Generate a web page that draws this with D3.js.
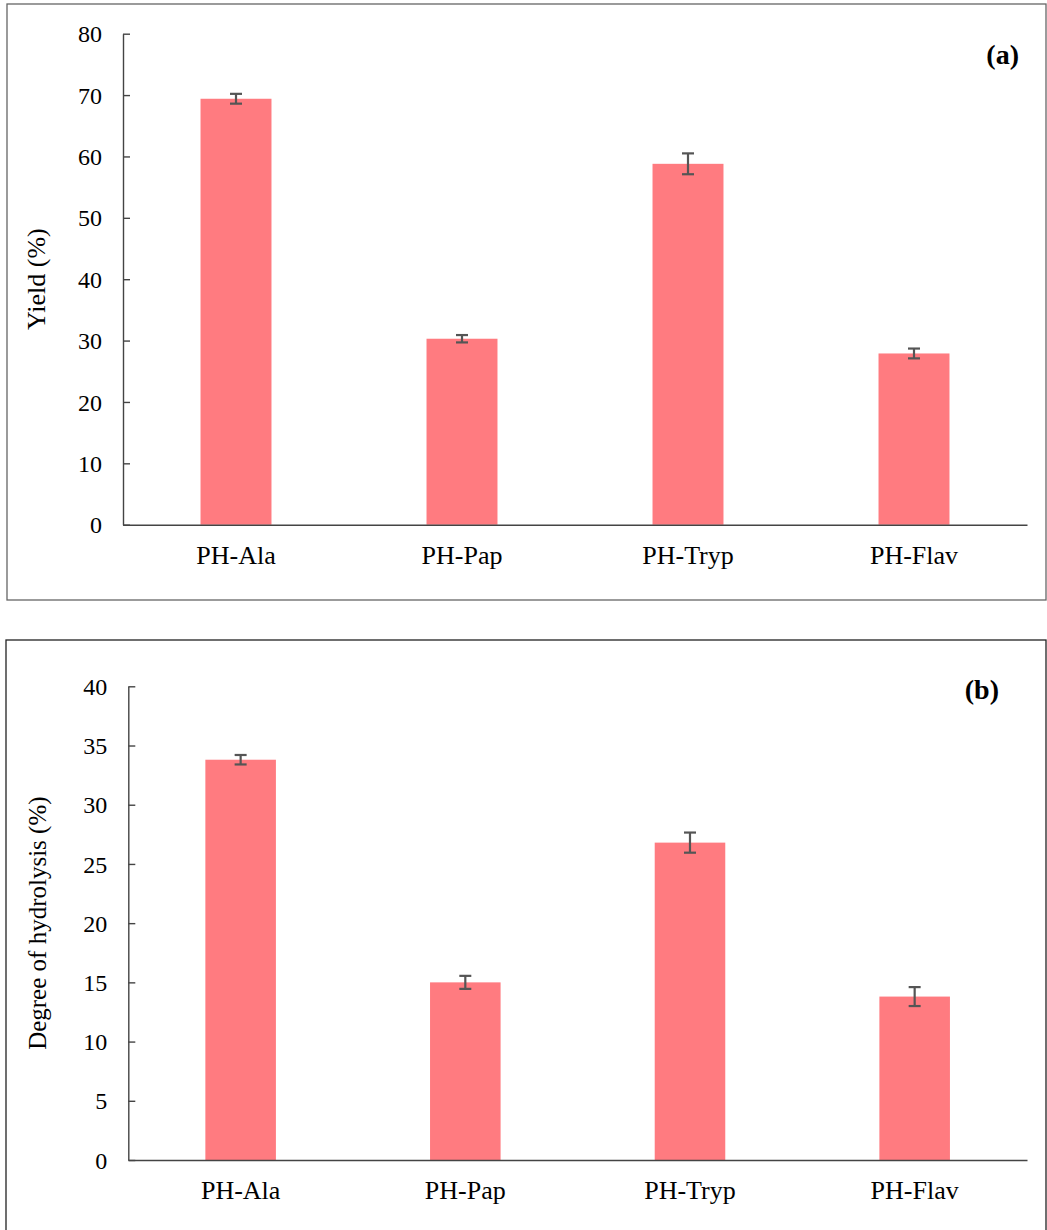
<!DOCTYPE html>
<html>
<head>
<meta charset="utf-8">
<script src="https://cdn.jsdelivr.net/npm/d3@7"></script>
<style>
  html, body { margin: 0; padding: 0; background: #fff; }
  svg { display: block; }
  text { font-family: "Liberation Serif", "Times New Roman", serif; fill: #000; }
</style>
</head>
<body>
<svg id="chart" width="1047" height="1230"></svg>
<script>
const categories = ["PH-Ala", "PH-Pap", "PH-Tryp", "PH-Flav"];
const yieldValues = [69.4, 30.3, 58.8, 27.9];
const yieldErrors = [0.8, 0.6, 1.7, 0.8];
const dhValues = [33.8, 15.0, 26.8, 13.8];
const dhErrors = [0.4, 0.55, 0.85, 0.8];
const yieldTicks = [0, 10, 20, 30, 40, 50, 60, 70, 80];
const dhTicks = [0, 5, 10, 15, 20, 25, 30, 35, 40];

const svg = d3.select("#chart");

function panel(cfg) {
  svg.append("rect")
    .attr("x", cfg.frame[0]).attr("y", cfg.frame[1])
    .attr("width", cfg.frame[2]).attr("height", cfg.frame[3])
    .attr("fill", "none").attr("stroke", cfg.frameColor).attr("stroke-width", 1.3);

  const x = d3.scaleBand().domain(categories).range([cfg.x0, cfg.x1]).paddingInner(0.686).paddingOuter(0.343);
  const y = d3.scaleLinear().domain([0, cfg.max]).range([cfg.y0, cfg.y1]);

  const g = svg.append("g");

  g.selectAll("rect.bar").data(cfg.values).join("rect")
    .attr("class", "bar")
    .attr("x", (d, i) => x(categories[i]))
    .attr("width", x.bandwidth())
    .attr("y", d => y(d))
    .attr("height", d => y(0) - y(d))
    .attr("fill", "#FF7B80");

  const eg = g.selectAll("g.err").data(cfg.values).join("g").attr("class", "err");
  eg.append("line")
    .attr("x1", (d, i) => x(categories[i]) + x.bandwidth() / 2)
    .attr("x2", (d, i) => x(categories[i]) + x.bandwidth() / 2)
    .attr("y1", (d, i) => y(d + cfg.errors[i]))
    .attr("y2", (d, i) => y(d - cfg.errors[i]))
    .attr("stroke", "#555").attr("stroke-width", 2.2);
  [1, -1].forEach(s => {
    eg.append("line")
      .attr("x1", (d, i) => x(categories[i]) + x.bandwidth() / 2 - 6)
      .attr("x2", (d, i) => x(categories[i]) + x.bandwidth() / 2 + 6)
      .attr("y1", (d, i) => y(d + s * cfg.errors[i]))
      .attr("y2", (d, i) => y(d + s * cfg.errors[i]))
      .attr("stroke", "#555").attr("stroke-width", 2.2);
  });

  const ya = g.append("g").attr("transform", `translate(${cfg.x0},0)`)
    .call(d3.axisLeft(y).tickValues(cfg.ticks).tickSize(-7).tickPadding(21).tickSizeOuter(0));
  ya.select(".domain").attr("stroke", "#444").attr("stroke-width", 1.4);
  ya.selectAll(".tick line").attr("stroke", "#444").attr("stroke-width", 1.4);
  ya.selectAll(".tick text").style("font-family", "Liberation Serif").style("font-size", "24px").attr("fill", "#000").attr("dy", "0.34em");

  const xa = g.append("g").attr("transform", `translate(0,${cfg.y0})`)
    .call(d3.axisBottom(x).tickSize(0).tickPadding(21));
  xa.select(".domain").attr("stroke", "#444").attr("stroke-width", 1.4);
  xa.selectAll(".tick text").style("font-family", "Liberation Serif").style("font-size", "26px").attr("fill", "#000");

  svg.append("text")
    .attr("transform", `translate(${cfg.titleX},${(cfg.y0 + cfg.y1) / 2}) rotate(-90)`)
    .attr("text-anchor", "middle")
    .style("font-size", cfg.titleSize)
    .text(cfg.title);

  svg.append("text")
    .attr("x", cfg.labelX).attr("y", cfg.labelY)
    .attr("text-anchor", "end")
    .style("font-size", "28px").style("font-weight", "bold")
    .text(cfg.label);
}

panel({
  frame: [7, 4, 1039, 596], frameColor: "#666",
  x0: 123, x1: 1027, y0: 524.7, y1: 33.7, max: 80,
  values: yieldValues, errors: yieldErrors, ticks: yieldTicks,
  title: "Yield (%)", titleSize: "26px", titleX: 45, label: "(a)", labelX: 1019, labelY: 64
});

panel({
  frame: [6, 640, 1040, 600], frameColor: "#222",
  x0: 128.3, x1: 1027, y0: 1160, y1: 686.3, max: 40,
  values: dhValues, errors: dhErrors, ticks: dhTicks,
  title: "Degree of hydrolysis (%)", titleSize: "25px", titleX: 46, label: "(b)", labelX: 999, labelY: 699
});
</script>
</body>
</html>
